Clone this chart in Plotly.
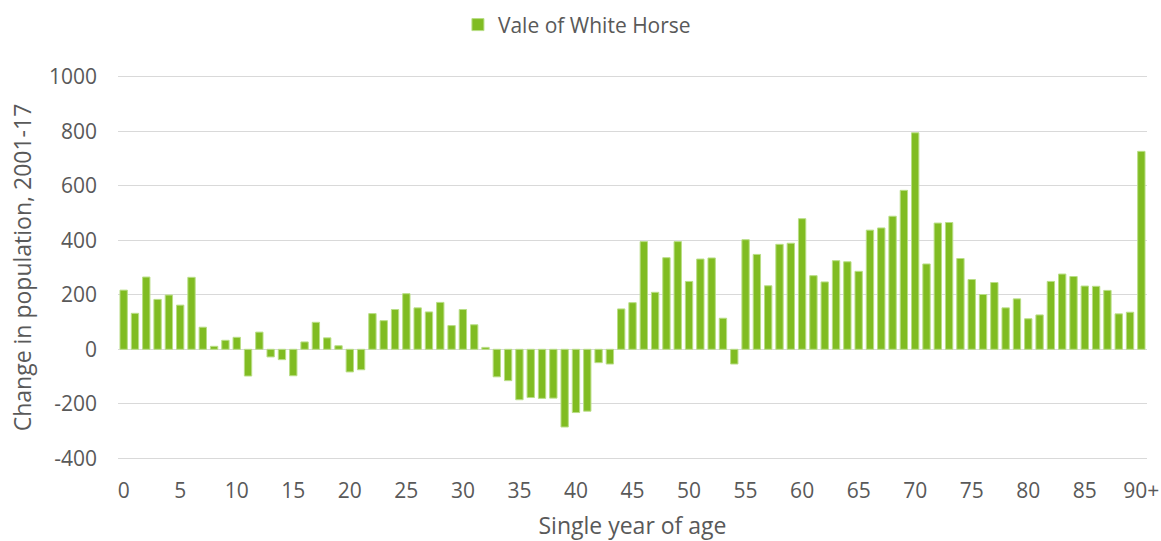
import plotly.graph_objects as go

ages = [str(a) for a in range(90)] + ["90+"]
change = [
    217, 132, 265, 183, 199, 162, 264, 81, 11, 33,
    44, -98, 63, -28, -38, -97, 27, 99, 42, 13,
    -83, -75, 131, 105, 146, 204, 152, 137, 172, 87,
    146, 90, 7, -101, -115, -185, -177, -180, -179, -285,
    -232, -227, -49, -54, 148, 171, 395, 209, 336, 395,
    249, 331, 335, 114, -54, 402, 348, 233, 385, 389,
    479, 270, 247, 325, 321, 286, 437, 445, 488, 583,
    794, 313, 463, 465, 333, 256, 201, 245, 152, 185,
    112, 126, 249, 276, 267, 232, 231, 216, 130, 136,
    726,
]
x_ticks = ["0", "5", "10", "15", "20", "25", "30", "35", "40", "45",
           "50", "55", "60", "65", "70", "75", "80", "85", "90+"]
y_ticks = [-400, -200, 0, 200, 400, 600, 800, 1000]
y_tick_text = ["-400", "-200", "0", "200", "400", "600", "800", "1000"]

grey = "#595959"
font = "Open Sans"

fig = go.Figure()
fig.add_trace(go.Bar(
    x=ages, y=change, name="Vale of White Horse",
    marker=dict(color="#80bc22", line=dict(color="#b9de86", width=1)),
))

# range padded a little so the 1000 / -400 gridlines are not clipped at the edges
fig.update_layout(
    width=1161, height=541,
    margin=dict(l=118, r=14, t=75, b=81, autoexpand=False),
    plot_bgcolor="white", paper_bgcolor="white",
    bargap=0.35,
    font=dict(family=font, size=21, color=grey),
    showlegend=True,
    legend=dict(orientation="h", x=0.446, xanchor="center", y=1.13, yanchor="middle",
                font=dict(size=21, color=grey), itemwidth=30),
    xaxis=dict(
        type="category", tickmode="array", tickvals=x_ticks, ticktext=x_ticks,
        showgrid=False, ticks="", automargin=False, ticklabelstandoff=16,
        tickfont=dict(size=21, color=grey),
        title=dict(text="Single year of age", font=dict(size=23, color=grey), standoff=15),
    ),
    yaxis=dict(
        range=[-406, 1006], tickmode="array", tickvals=y_ticks, ticktext=y_tick_text,
        showgrid=True, gridcolor="#d9d9d9", gridwidth=1.3,
        zeroline=True, zerolinecolor="#d9d9d9", zerolinewidth=1.3,
        ticks="", automargin=False, ticklabelstandoff=20,
        tickfont=dict(size=21, color=grey),
        title=dict(text="Change in population, 2001-17", font=dict(size=23, color=grey), standoff=10),
    ),
)

fig.write_html("out.html", config={"displayModeBar": False},
               post_script="document.body.style.margin='0';")
